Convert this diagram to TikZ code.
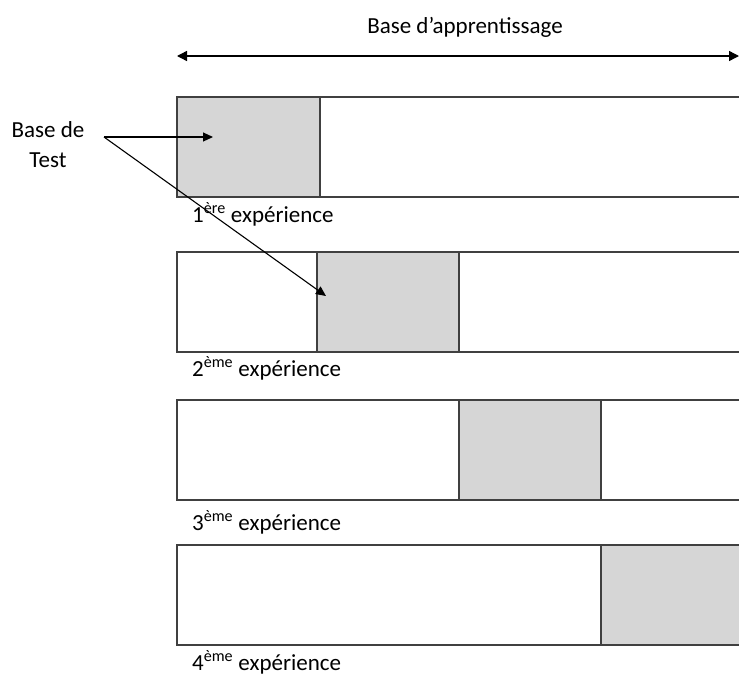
\documentclass[tikz,border=0pt]{standalone}
\usepackage{fontspec}
\setmainfont{Carlito}
\usetikzlibrary{arrows.meta}
\begin{document}
\begin{tikzpicture}[x=1pt,y=-1pt,
  boxline/.style={draw=black!75,line width=1.3pt},
  testcell/.style={fill=black!16},
  txt/.style={font=\fontsize{23}{30}\selectfont,inner sep=0pt},
  lbl/.style={txt,anchor=west},
  arr/.style={draw=black,line width=1.1pt,-{Triangle[length=10pt,width=9pt]}}]
\useasboundingbox (0,0) rectangle (739,678);
\clip (0,0) rectangle (739,678);
% rows
\foreach \t/\a/\b in {97/177/320, 252/317/459, 400/459/601, 545/601/760}{
  \fill[testcell] (\a,\t) rectangle (\b,\t+100);
  \draw[boxline] (177,\t) rectangle (760,\t+100);
  \draw[boxline] (\a,\t) -- (\a,\t+100);
  \draw[boxline] (\b,\t) -- (\b,\t+100);
}
\node[lbl] (e1) at (192,214) {1\textsuperscript{ère} expérience};
\node[lbl] (e2) at (192,368) {2\textsuperscript{ème} expérience};
\node[lbl] (e3) at (192,522) {3\textsuperscript{ème} expérience};
\node[lbl] (e4) at (192,662) {4\textsuperscript{ème} expérience};
% top arrow
\node[txt] (title) at (465,27) {Base d’apprentissage};
\coordinate (L) at (177,56);
\coordinate (R) at (739,56);
\draw[line width=1.4pt,{Triangle[length=10pt,width=10pt]}-{Triangle[length=10pt,width=10pt]}] (L) -- (R);
% Base de Test
\node[txt,align=center] (bt) at (48,145) {Base de\\Test};
\coordinate (src) at (104,137);
\coordinate (t1) at (213,137);
\coordinate (t2) at (326,296);
\draw[arr] (src) -- (t1);
\draw[arr] (src) -- (t2);
\end{tikzpicture}
\end{document}
